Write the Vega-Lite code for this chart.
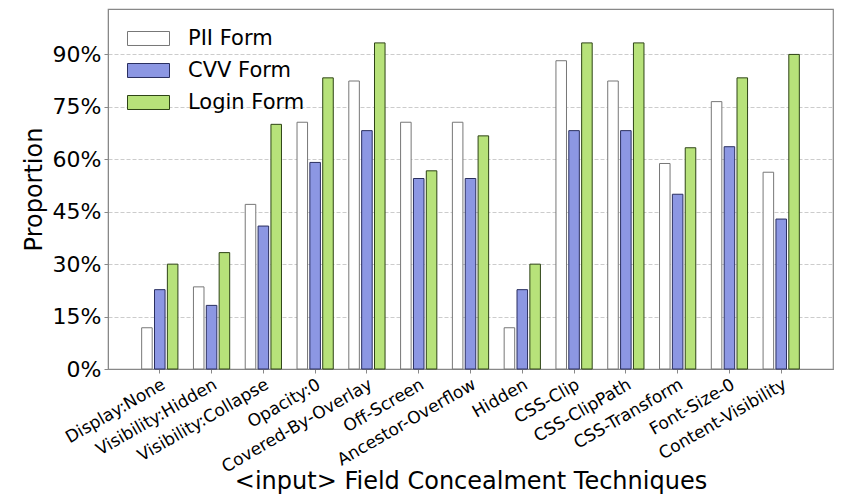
{
  "$schema": "https://vega.github.io/schema/vega-lite/v6.json",
  "width": 725,
  "height": 360,
  "autosize": {"type": "none"},
  "padding": {"left": 108, "top": 9, "right": 13, "bottom": 128},
  "background": "white",
  "config": {
    "font": "DejaVu Sans",
    "view": {"stroke": "#888888", "strokeWidth": 1.2}
  },
  "data": {
    "values": [
      {"technique": "Display:None", "form": "PII Form", "value": 0.118},
      {"technique": "Display:None", "form": "CVV Form", "value": 0.227},
      {"technique": "Display:None", "form": "Login Form", "value": 0.300},
      {"technique": "Visibility:Hidden", "form": "PII Form", "value": 0.235},
      {"technique": "Visibility:Hidden", "form": "CVV Form", "value": 0.182},
      {"technique": "Visibility:Hidden", "form": "Login Form", "value": 0.333},
      {"technique": "Visibility:Collapse", "form": "PII Form", "value": 0.471},
      {"technique": "Visibility:Collapse", "form": "CVV Form", "value": 0.409},
      {"technique": "Visibility:Collapse", "form": "Login Form", "value": 0.700},
      {"technique": "Opacity:0", "form": "PII Form", "value": 0.706},
      {"technique": "Opacity:0", "form": "CVV Form", "value": 0.591},
      {"technique": "Opacity:0", "form": "Login Form", "value": 0.833},
      {"technique": "Covered-By-Overlay", "form": "PII Form", "value": 0.824},
      {"technique": "Covered-By-Overlay", "form": "CVV Form", "value": 0.682},
      {"technique": "Covered-By-Overlay", "form": "Login Form", "value": 0.933},
      {"technique": "Off-Screen", "form": "PII Form", "value": 0.706},
      {"technique": "Off-Screen", "form": "CVV Form", "value": 0.545},
      {"technique": "Off-Screen", "form": "Login Form", "value": 0.567},
      {"technique": "Ancestor-Overflow", "form": "PII Form", "value": 0.706},
      {"technique": "Ancestor-Overflow", "form": "CVV Form", "value": 0.545},
      {"technique": "Ancestor-Overflow", "form": "Login Form", "value": 0.667},
      {"technique": "Hidden", "form": "PII Form", "value": 0.118},
      {"technique": "Hidden", "form": "CVV Form", "value": 0.227},
      {"technique": "Hidden", "form": "Login Form", "value": 0.300},
      {"technique": "CSS-Clip", "form": "PII Form", "value": 0.882},
      {"technique": "CSS-Clip", "form": "CVV Form", "value": 0.682},
      {"technique": "CSS-Clip", "form": "Login Form", "value": 0.933},
      {"technique": "CSS-ClipPath", "form": "PII Form", "value": 0.824},
      {"technique": "CSS-ClipPath", "form": "CVV Form", "value": 0.682},
      {"technique": "CSS-ClipPath", "form": "Login Form", "value": 0.933},
      {"technique": "CSS-Transform", "form": "PII Form", "value": 0.588},
      {"technique": "CSS-Transform", "form": "CVV Form", "value": 0.500},
      {"technique": "CSS-Transform", "form": "Login Form", "value": 0.633},
      {"technique": "Font-Size-0", "form": "PII Form", "value": 0.765},
      {"technique": "Font-Size-0", "form": "CVV Form", "value": 0.636},
      {"technique": "Font-Size-0", "form": "Login Form", "value": 0.833},
      {"technique": "Content-Visibility", "form": "PII Form", "value": 0.563},
      {"technique": "Content-Visibility", "form": "CVV Form", "value": 0.429},
      {"technique": "Content-Visibility", "form": "Login Form", "value": 0.900}
    ]
  },
  "mark": {"type": "bar", "strokeWidth": 1},
  "encoding": {
    "x": {
      "field": "technique",
      "type": "nominal",
      "sort": null,
      "scale": {"paddingInner": 0.3, "paddingOuter": 0.65},
      "axis": {
        "title": "<input> Field Concealment Techniques",
        "titleFontSize": 24,
        "titleFontWeight": "normal",
        "titleColor": "black",
        "titlePadding": -6,
        "labelAngle": -30,
        "labelAlign": "right",
        "labelBaseline": "top",
        "labelFontSize": 17,
        "labelColor": "black",
        "labelPadding": 3,
        "tickSize": 4,
        "tickColor": "#888888",
        "domainColor": "#888888",
        "grid": false
      }
    },
    "xOffset": {
      "field": "form",
      "type": "nominal",
      "sort": ["PII Form", "CVV Form", "Login Form"],
      "scale": {"paddingInner": 0.18, "paddingOuter": 0}
    },
    "y": {
      "field": "value",
      "type": "quantitative",
      "scale": {"domain": [0, 1.03], "nice": false},
      "axis": {
        "title": "Proportion",
        "titleFontSize": 24,
        "titleFontWeight": "normal",
        "titleColor": "black",
        "titlePadding": 6,
        "format": ".0%",
        "values": [0, 0.15, 0.3, 0.45, 0.6, 0.75, 0.9],
        "labelFontSize": 22,
        "labelColor": "black",
        "labelPadding": 3,
        "tickSize": 4,
        "tickColor": "#888888",
        "domainColor": "#888888",
        "grid": true,
        "gridColor": "#cccccc",
        "gridDash": [4, 2]
      }
    },
    "fill": {
      "field": "form",
      "type": "nominal",
      "sort": ["PII Form", "CVV Form", "Login Form"],
      "scale": {"domain": ["PII Form", "CVV Form", "Login Form"], "range": ["#ffffff", "#8c97e3", "#b7e27a"]},
      "legend": {
        "title": null,
        "orient": "none",
        "legendX": 19,
        "legendY": 8,
        "padding": 0,
        "symbolType": "M-1,-0.333H1V0.333H-1Z",
        "symbolSize": 1764,
        "symbolStrokeWidth": 1,
        "symbolOpacity": 1,
        "labelFontSize": 21,
        "labelColor": "black",
        "labelOffset": 18,
        "rowPadding": -11
      }
    },
    "stroke": {
      "field": "form",
      "type": "nominal",
      "sort": ["PII Form", "CVV Form", "Login Form"],
      "scale": {"domain": ["PII Form", "CVV Form", "Login Form"], "range": ["#777777", "#2a2f60", "#2e4416"]},
      "legend": null
    }
  }
}
